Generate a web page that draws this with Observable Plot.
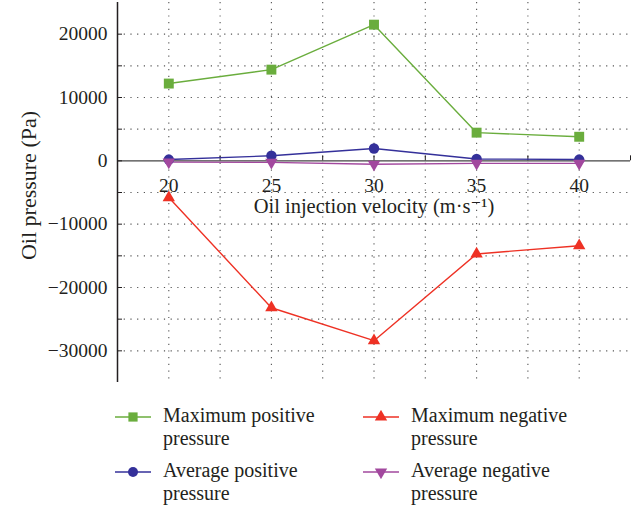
<!DOCTYPE html>
<html>
<head>
<meta charset="utf-8">
<script src="https://cdn.jsdelivr.net/npm/d3@7"></script>
<script src="https://cdn.jsdelivr.net/npm/@observablehq/plot@0.6"></script>
<style>
  body { margin: 0; background: #fff; font-family: "Liberation Serif", "DejaVu Serif", serif; color: #231f20; }
  #wrap { position: relative; width: 641px; height: 507px; }
  #legend { position: absolute; left: 0; top: 390px; width: 641px; height: 117px; }
  .item { position: absolute; display: flex; align-items: flex-start; }
  .item svg { margin-top: 6px; }
  .item .lab { font-size: 20px; line-height: 23px; margin-left: 12px; }
</style>
</head>
<body>
<div id="wrap"><div id="chart"></div><div id="legend"></div></div>
<script>
const velocity = [20, 25, 30, 35, 40];
const maxPositive = [12200, 14400, 21500, 4450, 3800];
const maxNegative = [-5800, -23200, -28400, -14700, -13400];
const avgPositive = [200, 800, 1950, 300, 200];
const avgNegative = [-200, -250, -550, -400, -400];

const seriesNames = ["Maximum positive pressure", "Maximum negative pressure", "Average positive pressure", "Average negative pressure"];
const seriesColors = ["#6aad3d", "#ee3124", "#34309a", "#a2489e"];

const xTicks = [20, 25, 30, 35, 40];
const yTicks = [-30000, -20000, -10000, 0, 10000, 20000];
const xGrid = [17.5, 20, 22.5, 25, 27.5, 30, 32.5, 35, 37.5, 40, 42.5];
const yGrid = [-35000, -30000, -25000, -20000, -15000, -10000, -5000, 0, 5000, 10000, 15000, 20000, 25000];
const xLabel = "Oil injection velocity (m·s⁻¹)";
const yLabel = "Oil pressure (Pa)";

const downTriangle = {
  draw(context, size) {
    const s = Math.sqrt(size / (Math.sqrt(3) / 4));
    const h = s * Math.sqrt(3) / 2;
    context.moveTo(0, h * 2 / 3);
    context.lineTo(s / 2, -h / 3);
    context.lineTo(-s / 2, -h / 3);
    context.closePath();
  }
};

const toRows = (vals, name) => velocity.map((v, i) => ({v, p: vals[i], name}));
const dMaxPos = toRows(maxPositive, seriesNames[0]);
const dMaxNeg = toRows(maxNegative, seriesNames[1]);
const dAvgPos = toRows(avgPositive, seriesNames[2]);
const dAvgNeg = toRows(avgNegative, seriesNames[3]);

const H = 390, mT = 2, mB = 8;
const unitsPerPx = 60000 / (H - mT - mB);
const tickLen = 5 * unitsPerPx;
const ink = "#231f20";
const fontFam = "Liberation Serif, DejaVu Serif, serif";

const chart = Plot.plot({
  width: 641,
  height: H,
  marginLeft: 117,
  marginRight: 11,
  marginTop: mT,
  marginBottom: mB,
  style: {fontFamily: fontFam, fontSize: "19px", color: ink, background: "#fff"},
  x: {domain: [17.5, 42.5], axis: null},
  y: {domain: [-35000, 25000], axis: null},
  marks: [
    Plot.ruleX(xGrid.slice(1, -1), {x: d => d, stroke: "#555", strokeWidth: 1.1, strokeDasharray: "1.2,5.5"}),
    Plot.ruleY(yGrid.slice(1, -1).filter(d => d !== 0), {y: d => d, stroke: "#555", strokeWidth: 1.1, strokeDasharray: "1.2,5.5"}),
    Plot.ruleY([0], {y: d => d, stroke: "#444", strokeWidth: 1.4}),
    Plot.ruleX([17.5], {x: d => d, stroke: ink, strokeWidth: 1.5}),
    Plot.ruleX(xGrid.slice(1), {x: d => d, y1: 0, y2: tickLen, stroke: ink, strokeWidth: 1}),
    Plot.ruleY(yGrid.slice(1, -1), {y: d => d, x1: 17.5, x2: 17.5 + 5 * 25 / 513, stroke: ink, strokeWidth: 1}),
    Plot.text(yTicks, {x: 17.5, y: d => d, text: d => d3.format("d")(d), textAnchor: "end", dx: -10, fill: ink, fontSize: 19.5}),
    Plot.text(xTicks, {x: d => d, y: 0, text: d => String(d), dy: 25, fill: ink, fontSize: 19.5}),
    Plot.text([xLabel], {x: 30, y: 0, text: d => d, dy: 46, fill: ink, fontSize: 20.5}),
    Plot.text([yLabel], {frameAnchor: "left", textAnchor: "middle", dx: -89, dy: -7, rotate: -90, text: d => d, fill: ink, fontSize: 22}),
    Plot.line(dAvgNeg, {x: "v", y: "p", stroke: seriesColors[3], strokeWidth: 1.4}),
    Plot.line(dAvgPos, {x: "v", y: "p", stroke: seriesColors[2], strokeWidth: 1.4}),
    Plot.line(dMaxPos, {x: "v", y: "p", stroke: seriesColors[0], strokeWidth: 1.4}),
    Plot.line(dMaxNeg, {x: "v", y: "p", stroke: seriesColors[1], strokeWidth: 1.4}),
    Plot.dot(dAvgPos, {x: "v", y: "p", symbol: "circle", r: 5.2, fill: seriesColors[2]}),
    Plot.dot(dAvgNeg, {x: "v", y: "p", symbol: downTriangle, r: 4.6, fill: seriesColors[3]}),
    Plot.dot(dMaxPos, {x: "v", y: "p", symbol: "square", r: 5.6, fill: seriesColors[0]}),
    Plot.dot(dMaxNeg, {x: "v", y: "p", symbol: "triangle", r: 4.6, fill: seriesColors[1]})
  ]
});
document.getElementById("chart").appendChild(chart);

// Legend
const legendPos = [
  {left: 115, top: 14, sym: d3.symbolSquare, size: Math.PI * 5.2 * 5.2},
  {left: 363, top: 14, sym: d3.symbolTriangle, size: Math.PI * 4.6 * 4.6},
  {left: 115, top: 69, sym: d3.symbolCircle, size: Math.PI * 5 * 5},
  {left: 363, top: 69, sym: downTriangle, size: Math.PI * 4.6 * 4.6}
];
const legend = d3.select("#legend");
seriesNames.forEach((name, i) => {
  const p = legendPos[i];
  const item = legend.append("div").attr("class", "item").style("left", p.left + "px").style("top", p.top + "px");
  const svg = item.append("svg").attr("width", 36).attr("height", 14);
  svg.append("line").attr("x1", 0).attr("x2", 36).attr("y1", 7).attr("y2", 7).attr("stroke", seriesColors[i]).attr("stroke-width", 1.4);
  svg.append("path").attr("transform", "translate(18,7)").attr("d", d3.symbol(p.sym, p.size)()).attr("fill", seriesColors[i]);
  const words = name.split(" ");
  item.append("div").attr("class", "lab").html(words.slice(0, 2).join(" ") + "<br>" + words.slice(2).join(" "));
});
</script>
</body>
</html>
